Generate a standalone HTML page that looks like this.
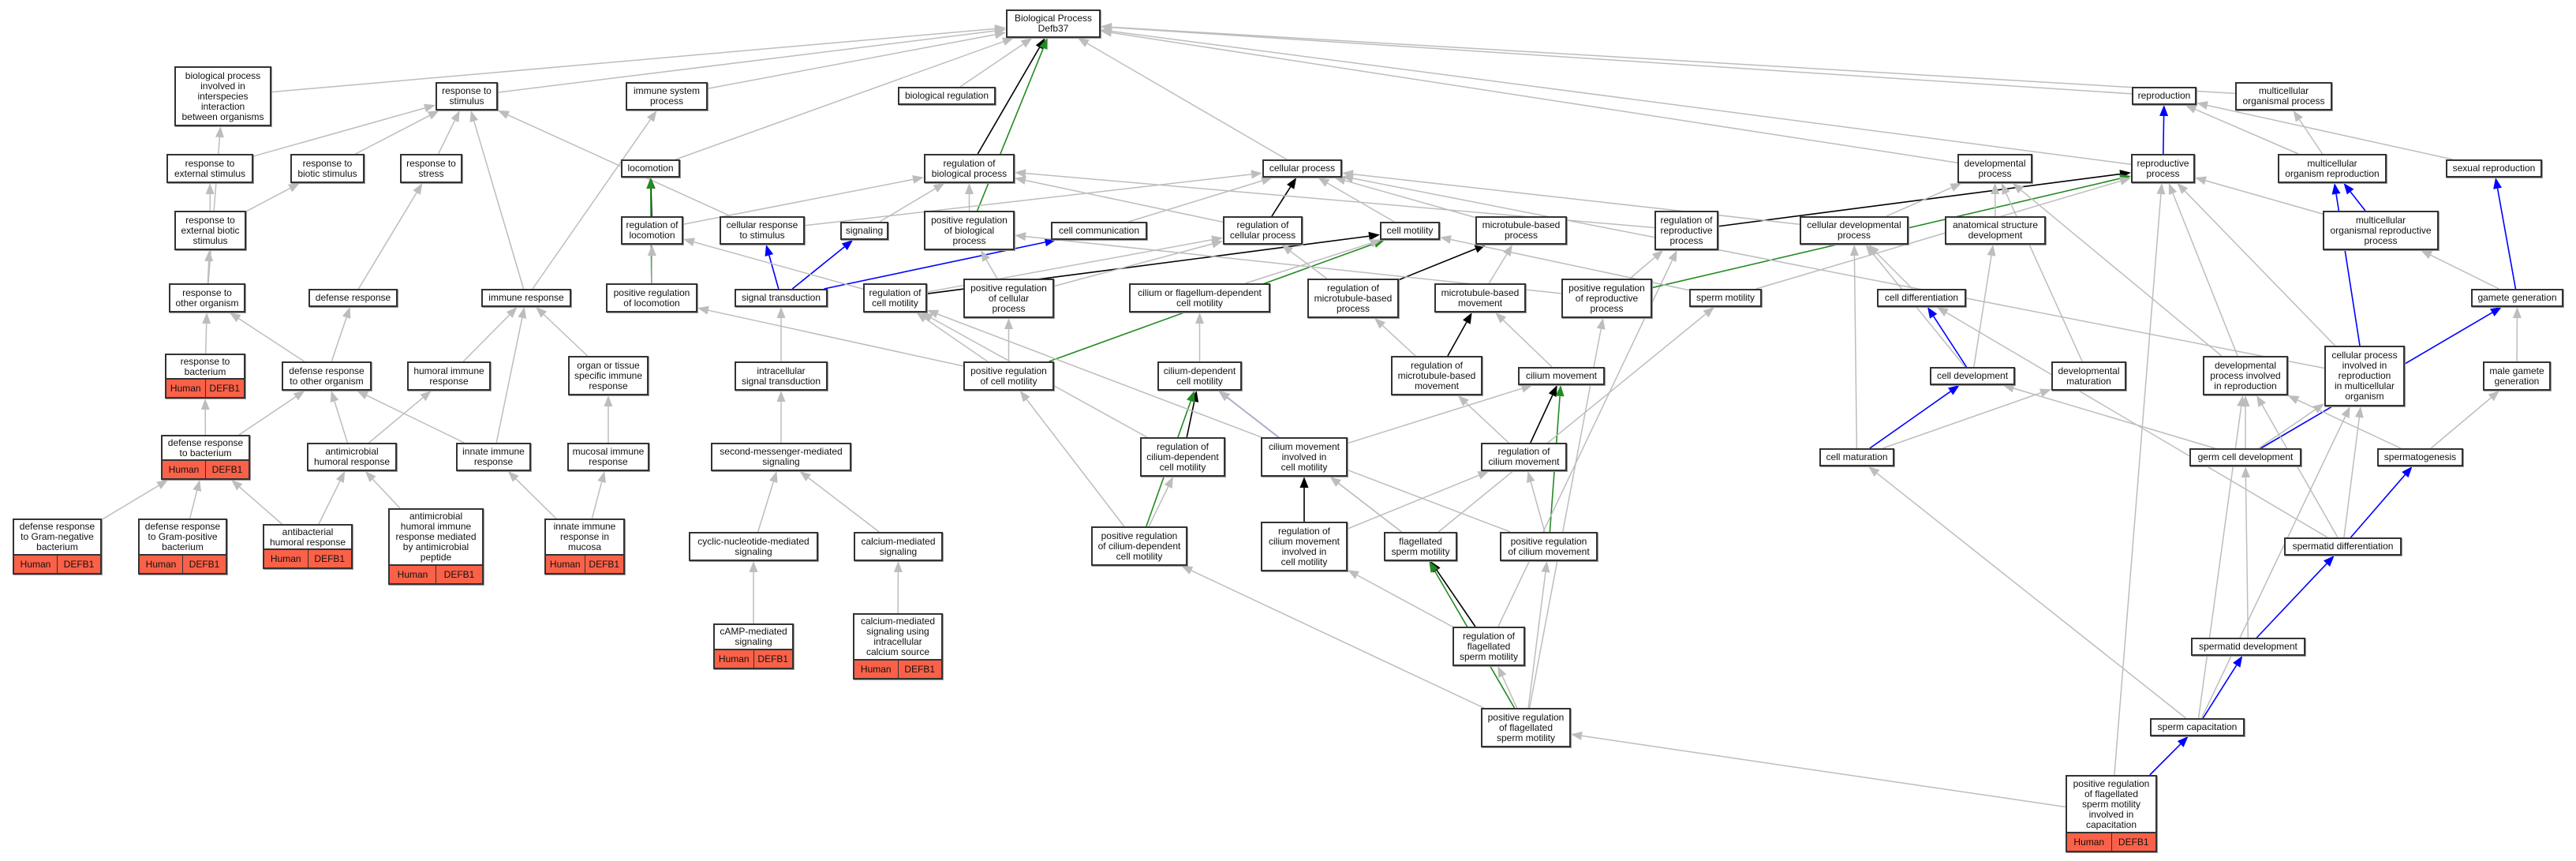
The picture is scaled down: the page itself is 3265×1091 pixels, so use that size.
<!DOCTYPE html>
<html><head><meta charset="utf-8">
<style>
html,body{margin:0;padding:0;background:#fff;}
#wrap{position:relative;width:3265px;height:1091px;overflow:hidden;font-family:"Liberation Sans",Arial,sans-serif;}
svg{position:absolute;left:0;top:0;}
.n{position:absolute;box-sizing:border-box;border:2px solid #333;background:#fff;box-shadow:1px 1px 0 #999;display:flex;flex-direction:column;}
.t{flex:1;display:flex;align-items:center;justify-content:center;text-align:center;font-size:12px;line-height:13px;color:#111;white-space:nowrap;}
.r{display:flex;background:#fa6148;border-top:2px solid #333;font-size:12px;color:#111;}
.r span{flex:1;display:flex;align-items:center;justify-content:center;}
.r span+span{border-left:1.5px solid #333;}
</style></head><body>
<div id="wrap">
<svg id="sv" width="3265" height="1091"></svg>
</div>
<script>
var N={
root:[1275,12,1395,48,"Biological Process<br>Defb37"],
inter:[221,84,344,160,"biological process<br>involved in<br>interspecies<br>interaction<br>between organisms"],
rstim:[552,104,631,140,"response to<br>stimulus"],
imsys:[793,104,897,140,"immune system<br>process"],
bioreg:[1138,110,1262,133,"biological regulation"],
reprod:[2702,110,2784,133,"reproduction"],
mop:[2833,104,2956,140,"multicellular<br>organismal process"],
rext:[211,195,321,232,"response to<br>external stimulus"],
rbio:[368,195,462,232,"response to<br>biotic stimulus"],
rstress:[507,195,586,232,"response to<br>stress"],
loco:[787,202,862,225,"locomotion"],
rbp:[1171,195,1286,232,"regulation of<br>biological process"],
cellp:[1600,202,1701,225,"cellular process"],
devp:[2481,195,2576,232,"developmental<br>process"],
repp:[2701,195,2782,232,"reproductive<br>process"],
mor:[2887,195,3025,232,"multicellular<br>organism reproduction"],
sexr:[3100,202,3222,225,"sexual reproduction"],
rextb:[221,267,312,317,"response to<br>external biotic<br>stimulus"],
rloco:[787,274,866,310,"regulation of<br>locomotion"],
crs:[912,274,1020,310,"cellular response<br>to stimulus"],
sig:[1065,281,1126,304,"signaling"],
prbp:[1171,267,1286,317,"positive regulation<br>of biological<br>process"],
ccom:[1332,281,1454,304,"cell communication"],
rcp:[1550,274,1651,310,"regulation of<br>cellular process"],
cmot:[1749,281,1825,304,"cell motility"],
mtp:[1870,274,1986,310,"microtubule-based<br>process"],
rrp:[2097,267,2178,317,"regulation of<br>reproductive<br>process"],
cdp:[2281,274,2419,310,"cellular developmental<br>process"],
asd:[2465,274,2593,310,"anatomical structure<br>development"],
morp:[2944,267,3091,317,"multicellular<br>organismal reproductive<br>process"],
roo:[214,359,311,396,"response to<br>other organism"],
defr:[391,366,504,389,"defense response"],
imr:[610,366,724,389,"immune response"],
prloco:[768,359,884,396,"positive regulation<br>of locomotion"],
st:[931,366,1049,389,"signal transduction"],
rcm:[1094,359,1175,396,"regulation of<br>cell motility"],
prcp:[1221,353,1336,403,"positive regulation<br>of cellular<br>process"],
cfdm:[1431,359,1610,396,"cilium or flagellum-dependent<br>cell motility"],
rmtp:[1657,353,1773,403,"regulation of<br>microtubule-based<br>process"],
mtm:[1818,359,1934,396,"microtubule-based<br>movement"],
prrp:[1979,353,2094,403,"positive regulation<br>of reproductive<br>process"],
spm:[2141,366,2233,389,"sperm motility"],
cdiff:[2379,366,2492,389,"cell differentiation"],
gg:[3132,366,3249,389,"gamete generation"],
rbac:[209,448,311,505,"response to<br>bacterium",1],
dro:[357,458,471,495,"defense response<br>to other organism"],
hir:[516,458,622,495,"humoral immune<br>response"],
ots:[720,451,822,501,"organ or tissue<br>specific immune<br>response"],
ist:[931,458,1049,495,"intracellular<br>signal transduction"],
prcm:[1221,458,1336,495,"positive regulation<br>of cell motility"],
cdcm:[1467,458,1574,495,"cilium-dependent<br>cell motility"],
rmtm:[1763,451,1879,501,"regulation of<br>microtubule-based<br>movement"],
cmov:[1924,465,2034,488,"cilium movement"],
cdev:[2446,465,2554,488,"cell development"],
dmat:[2600,458,2695,495,"developmental<br>maturation"],
dpir:[2792,451,2900,501,"developmental<br>process involved<br>in reproduction"],
cpir:[2946,438,3048,515,"cellular process<br>involved in<br>reproduction<br>in multicellular<br>organism"],
mgg:[3147,458,3233,495,"male gamete<br>generation"],
drb:[204,551,317,608,"defense response<br>to bacterium",1],
amh:[389,561,503,597,"antimicrobial<br>humoral response"],
iir:[578,561,673,597,"innate immune<br>response"],
mir:[719,561,823,597,"mucosal immune<br>response"],
sms:[901,561,1079,597,"second-messenger-mediated<br>signaling"],
rcdcm:[1445,554,1553,604,"regulation of<br>cilium-dependent<br>cell motility"],
cmic:[1598,554,1708,604,"cilium movement<br>involved in<br>cell motility"],
rcmov:[1877,561,1986,597,"regulation of<br>cilium movement"],
cmat:[2306,568,2401,591,"cell maturation"],
gcd:[2775,568,2917,591,"germ cell development"],
spg:[3013,568,3122,591,"spermatogenesis"],
gneg:[16,657,129,728,"defense response<br>to Gram-negative<br>bacterium",1],
gpos:[175,657,288,728,"defense response<br>to Gram-positive<br>bacterium",1],
abh:[333,664,447,721,"antibacterial<br>humoral response",1],
amp:[492,644,613,741,"antimicrobial<br>humoral immune<br>response mediated<br>by antimicrobial<br>peptide",1],
iirm:[690,657,792,728,"innate immune<br>response in<br>mucosa",1],
cnms:[873,674,1037,711,"cyclic-nucleotide-mediated<br>signaling"],
cams:[1082,674,1195,711,"calcium-mediated<br>signaling"],
prcdcm:[1383,667,1505,717,"positive regulation<br>of cilium-dependent<br>cell motility"],
rcmic:[1598,661,1708,724,"regulation of<br>cilium movement<br>involved in<br>cell motility"],
fsm:[1754,674,1847,711,"flagellated<br>sperm motility"],
prcmov:[1901,674,2025,711,"positive regulation<br>of cilium movement"],
sdiff:[2895,681,3044,704,"spermatid differentiation"],
camp:[904,790,1006,848,"cAMP-mediated<br>signaling",1],
caic:[1081,777,1195,861,"calcium-mediated<br>signaling using<br>intracellular<br>calcium source",1],
rfsm:[1841,794,1933,844,"regulation of<br>flagellated<br>sperm motility"],
sdev:[2777,808,2922,831,"spermatid development"],
prfsm:[1877,897,1991,947,"positive regulation<br>of flagellated<br>sperm motility"],
scap:[2725,910,2845,933,"sperm capacitation"],
prcap:[2618,982,2734,1080,"positive regulation<br>of flagellated<br>sperm motility<br>involved in<br>capacitation",1]
};
var G="#bdbdbd",K="#000",B="#0000ff",E="#228b22";
var L=[
["inter","root",G],["rstim","root",G],["imsys","root",G],["loco","root",G],["bioreg","root",G],["cellp","root",G],["devp","root",G],["reprod","root",G],["mop","root",G],["repp","root",G],
["rbp","root",K],["prbp","root",E],
["roo","inter",G],["rext","rstim",G],["rbio","rstim",G],["rstress","rstim",G],["imr","rstim",G],["crs","rstim",G],["imr","imsys",G],
["rextb","rext",G],["rextb","rbio",G],["roo","rextb",G],["defr","rstress",G],["rbac","roo",G],["dro","roo",G],["dro","defr",G],
["hir","imr",G],["iir","imr",G],["ots","imr",G],["amh","hir",G],["mir","ots",G],["amh","dro",G],["iir","dro",G],["drb","dro",G],
["drb","rbac",G],["gneg","drb",G],["gpos","drb",G],["abh","drb",G],["abh","amh",G],["amp","amh",G],["iirm","iir",G],["iirm","mir",G],
["rloco","loco",K],["prloco","loco",E],["prloco","rloco",G],["rloco","rbp",G],["crs","cellp",G],["sig","rbp",G],["prbp","rbp",G],
["ccom","cellp",G],["rcp","cellp",K],["rcp","rbp",G],["st","crs",B],["st","sig",B],["st","ccom",B],
["rcm","cmot",K],["rcm","rloco",G],["rcm","rcp",G],["prcp","rcp",G],["prcp","prbp",G],
["prcm","prloco",G],["prcm","rcm",G],["prcm","prcp",G],["prcm","cmot",E],
["ist","st",G],["sms","ist",G],["cnms","sms",G],["cams","sms",G],["camp","cnms",G],["caic","cams",G],
["cfdm","cmot",G],["cdcm","cfdm",G],["rcdcm","cdcm",K],["rcdcm","rcm",G],["prcdcm","cdcm",E],["prcdcm","rcdcm",G],["prcdcm","prcm",G],
["cmic","cdcm",B],["cmic","cmov",G],["rcmic","cmic",K],["rcmic","rcmov",G],
["cmot","cellp",G],["mtp","cellp",G],["rmtp","mtp",K],["rmtp","rcp",G],["mtm","mtp",G],["rmtm","mtm",K],["rmtm","rmtp",G],
["cmov","mtm",G],["rcmov","cmov",K],["rcmov","rmtm",G],["prcmov","cmov",E],["prcmov","rcmov",G],["prcmov","rcm",G],
["fsm","cdcm",G],["fsm","cmic",G],["fsm","spm",G],["rfsm","fsm",K],["rfsm","rcmic",G],["rfsm","rrp",G],
["prfsm","fsm",E],["prfsm","rfsm",G],["prfsm","prcmov",G],["prfsm","prcdcm",G],["prfsm","prrp",G],
["prcap","prfsm",G],["prcap","scap",B],["prcap","repp",G],
["rrp","repp",K],["rrp","rbp",G],["prrp","repp",E],["prrp","rrp",G],["prrp","prbp",G],["spm","cmot",G],["spm","repp",G],
["cdp","cellp",G],["cdp","devp",G],["asd","devp",G],["cdiff","cdp",G],["cdev","cdiff",B],["cdev","cdp",G],["cdev","asd",G],
["cmat","cdev",B],["cmat","cdp",G],["cmat","dmat",G],["dmat","devp",G],["dpir","repp",G],["dpir","devp",G],
["cpir","mor",B],["cpir","repp",G],["cpir","cellp",G],["repp","reprod",B],["mor","mop",G],["mor","reprod",G],
["morp","mor",B],["morp","repp",G],["sexr","reprod",G],["gg","sexr",B],["gg","morp",G],["mgg","gg",G],
["gcd","gg",B],["gcd","cdev",G],["gcd","dpir",G],["gcd","cpir",G],["spg","mgg",G],["spg","dpir",G],
["sdiff","spg",B],["sdiff","cdiff",G],["sdiff","dpir",G],["sdiff","cpir",G],["sdev","sdiff",B],["sdev","gcd",G],
["scap","sdev",B],["scap","cmat",G],["scap","dpir",G],["scap","cpir",G]
];
var wrap=document.getElementById('wrap'),sv=document.getElementById('sv');
function clip(b,cx,cy,dx,dy){
 var hw=(b[2]-b[0])/2,hh=(b[3]-b[1])/2,t=1e9;
 if(dx)t=Math.min(t,hw/Math.abs(dx)); if(dy)t=Math.min(t,hh/Math.abs(dy));
 return [cx+dx*t,cy+dy*t];}
var svgs="";
L.forEach(function(e){
 var a=N[e[0]],b=N[e[1]];
 var ax=(a[0]+a[2])/2,ay=(a[1]+a[3])/2,bx=(b[0]+b[2])/2,by=(b[1]+b[3])/2;
 var dx=bx-ax,dy=by-ay,len=Math.hypot(dx,dy);dx/=len;dy/=len;
 var p=clip(a,ax,ay,dx,dy),q=clip(b,bx,by,-dx,-dy);
 var al=14,aw=5.5;
 var ex=q[0]-dx*al,ey=q[1]-dy*al;
 var sw=e[2]==G?1.5:1.6;
 svgs+='<line x1="'+p[0]+'" y1="'+p[1]+'" x2="'+ex+'" y2="'+ey+'" stroke="'+e[2]+'" stroke-width="'+sw+'"/>';
 svgs+='<polygon fill="'+e[2]+'" points="'+q[0]+','+q[1]+' '+(ex-dy*aw)+','+(ey+dx*aw)+' '+(ex+dy*aw)+','+(ey-dx*aw)+'"/>';
});
sv.innerHTML=svgs;
for(var k in N){var b=N[k];var d=document.createElement('div');d.className='n';
 d.style.left=b[0]+'px';d.style.top=b[1]+'px';d.style.width=(b[2]-b[0])+'px';d.style.height=(b[3]-b[1])+'px';
 var h='<div class="t">'+b[4]+'</div>';
 if(b[5])h+='<div class="r" style="height:22px"><span>Human</span><span>DEFB1</span></div>';
 d.innerHTML=h;wrap.appendChild(d);}
</script>
</body></html>
